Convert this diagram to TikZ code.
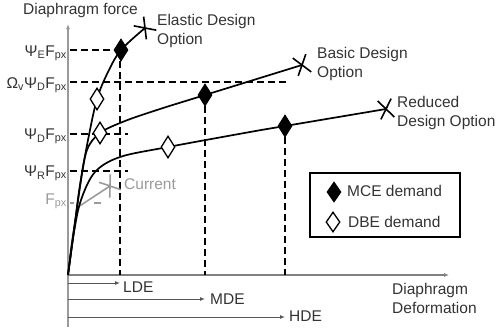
\documentclass[tikz,border=0pt]{standalone}
\usepackage{fontspec}
\setmainfont{Liberation Sans}
\usetikzlibrary{shapes.geometric,shapes.misc,arrows.meta}
\definecolor{txt}{HTML}{333333}
\definecolor{axisgray}{HTML}{9A9A9A}
\definecolor{arrgray}{HTML}{555555}
\begin{document}
\begin{tikzpicture}[x=1pt,y=-1pt,
  lbl/.style={font=\fontsize{15.5}{19}\selectfont, text=txt, inner sep=0pt, align=left},
  glbl/.style={lbl, text=axisgray},
  curve/.style={line width=1.7pt, black},
  dsh/.style={line width=2.8pt, dash pattern=on 7pt off 4pt},
  mce/.style={diamond, fill=black, draw=black, line width=1pt, minimum width=14pt, minimum height=22pt, inner sep=0pt},
  dbe/.style={diamond, fill=white, draw=black, line width=1.3pt, minimum width=14pt, minimum height=22pt, inner sep=0pt},
  xmark/.style={cross out, draw, line width=1.6pt, minimum width=12pt, minimum height=17pt, inner sep=0pt},
  axisline/.style={axisgray, line width=1.3pt},
  tip/.style={-{Latex[length=5pt,width=4pt]}},
  demarrow/.style={arrgray, line width=1pt, -{Latex[length=5pt,width=4pt]}}
]
\useasboundingbox (0,0) rectangle (497,327);

% axes
\coordinate (O) at (68,275);
\coordinate (ytop) at (68,24);
\coordinate (ybot) at (68,327);
\coordinate (xend) at (449,275);
\draw[axisline] (ybot) -- (O);
\draw[axisline, tip] (O) -- (ytop);
\draw[axisline, tip, color=gray] (O) -- (xend);

% key points
\coordinate (eMCE) at (121,50);
\coordinate (eDBE) at (97,99);
\coordinate (eX) at (145,28);
\coordinate (bMCE) at (205,95);
\coordinate (bDBE) at (100,133);
\coordinate (bX) at (302,65);
\coordinate (rMCE) at (285,126);
\coordinate (rDBE) at (168,147);
\coordinate (rX) at (386,109);
\coordinate (cX) at (110,186);

% dashed guide lines
\coordinate (hE0) at (70,50);   \coordinate (hE1) at (121,50);
\coordinate (hO0) at (70,82);   \coordinate (hO1) at (288,82);
\coordinate (hD0) at (70,134);  \coordinate (hD1) at (128,134);
\coordinate (hR0) at (70,171);  \coordinate (hR1) at (128,171);
\coordinate (hF0) at (70,203);  \coordinate (hF1) at (101,203);
\coordinate (vL) at (120,275);
\coordinate (vM) at (205,275);
\coordinate (vH) at (285,275);
\draw[dsh] (hE0) -- (hE1);
\draw[dsh] (hO0) -- (hO1);
\draw[dsh] (hD0) -- (hD1);
\draw[dsh] (hR0) -- (hR1);
\draw[axisgray, line width=1.8pt, dash pattern=on 4pt off 20pt on 7pt off 10pt] (hF0) -- (hF1);
\draw[dsh] (120,50) -- (vL);
\draw[dsh] (bMCE) -- (vM);
\draw[dsh] (rMCE) -- (vH);

% curves
\draw[axisgray, line width=1.6pt] plot[smooth, tension=0.6] coordinates {(68,275) (72,240) (78,207)} -- (cX);
\draw[curve] plot[smooth, tension=0.55] coordinates {(68,275) (74,230) (81,180) (88,140) (97,99) (108,72) (121,50) (145,28)};
\draw[curve] plot[smooth, tension=0.55] coordinates {(68,275) (74,230) (80,185) (87,150) (100,133) (125,121) (160,109) (205,95) (302,65)};
\draw[curve] plot[smooth, tension=0.55] coordinates {(68,275) (74,232) (81,200) (95,172) (120,157) (168,147) (250,132) (285,126) (386,109)};

% end marks
\node[xmark, rotate=43] (xe) at (eX) {};
\node[xmark, rotate=17] (xb) at (bX) {};
\node[xmark, rotate=10] (xr) at (rX) {};
\node[xmark, rotate=35, draw=axisgray] (xc) at (cX) {};

% demand markers
\node[mce] (m1) at (eMCE) {};
\node[mce] (m2) at (bMCE) {};
\node[mce] (m3) at (rMCE) {};
\node[dbe] (d1) at (eDBE) {};
\node[dbe] (d2) at (bDBE) {};
\node[dbe] (d3) at (rDBE) {};

% axis labels
\node[lbl, anchor=west] (tforce) at (23,10) {Diaphragm force};
\node[lbl, anchor=west] (tdef) at (392,298) {Diaphragm\\Deformation};

% curve labels
\node[lbl, anchor=west] (telastic) at (157,31) {Elastic Design\\Option};
\node[lbl, anchor=west] (tbasic) at (317,64) {Basic Design\\Option};
\node[lbl, anchor=west] (treduced) at (397,113) {Reduced\\Design Option};
\node[glbl, anchor=west] (tcurrent) at (124,184) {Current};

% force level labels
\node[lbl, anchor=base east] (lE) at (67,56) {Ψ\textsubscript{E}F\textsubscript{px}};
\node[lbl, anchor=base east] (lO) at (67,88) {Ω\textsubscript{v}Ψ\textsubscript{D}F\textsubscript{px}};
\node[lbl, anchor=base east] (lD) at (67,139.5) {Ψ\textsubscript{D}F\textsubscript{px}};
\node[lbl, anchor=base east] (lR) at (67,176.5) {Ψ\textsubscript{R}F\textsubscript{px}};
\node[glbl, anchor=base east] (lF) at (67,204) {F\textsubscript{px}};

% demand arrows
\coordinate (aL0) at (68,283); \coordinate (aL1) at (120,283);
\coordinate (aM0) at (68,299); \coordinate (aM1) at (205,299);
\coordinate (aH0) at (68,317); \coordinate (aH1) at (285,317);
\draw[demarrow] (aL0) -- (aL1);
\draw[demarrow] (aM0) -- (aM1);
\draw[demarrow] (aH0) -- (aH1);
\node[lbl, anchor=west] (tLDE) at (123,287) {LDE};
\node[lbl, anchor=west] (tMDE) at (210,299) {MDE};
\node[lbl, anchor=west] (tHDE) at (289,316) {HDE};

% legend
\node[draw, line width=1.4pt, minimum width=150pt, minimum height=64pt, inner sep=0pt] (legend) at (385,205) {};
\node[mce, minimum width=14pt, minimum height=20pt] (lgm) at (334,192) {};
\node[dbe, minimum width=14pt, minimum height=20pt] (lgd) at (333,222) {};
\node[lbl, anchor=west] (tmce) at (347,191) {MCE demand};
\node[lbl, anchor=west] (tdbe) at (348,222) {DBE demand};
\end{tikzpicture}
\end{document}
